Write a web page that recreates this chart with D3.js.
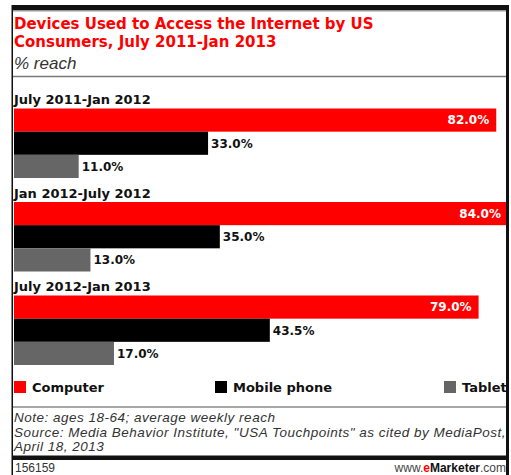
<!DOCTYPE html>
<html>
<head>
<meta charset="utf-8">
<script src="https://cdn.jsdelivr.net/npm/d3@7"></script>
<style>
  html, body { margin: 0; padding: 0; background: #fff; }
  svg { display: block; }
</style>
</head>
<body>
<div id="chart"></div>
<script>
// ---- data ----
const periods = ["July 2011-Jan 2012", "Jan 2012-July 2012", "July 2012-Jan 2013"];
const series = ["Computer", "Mobile phone", "Tablet"];
const computer = [82.0, 84.0, 79.0];
const mobile = [33.0, 35.0, 43.5];
const tablet = [11.0, 13.0, 17.0];
const seriesColors = ["#ff0000", "#000000", "#666666"];
const titleLines = ["Devices Used to Access the Internet by US", "Consumers, July 2011-Jan 2013"];
const subtitle = "% reach";
const notes = [
  "Note: ages 18-64; average weekly reach",
  "Source: Media Behavior Institute, \"USA Touchpoints\" as cited by MediaPost,",
  "April 18, 2013"
];
const chartId = "156159";

const values = [computer, mobile, tablet];

const W = 511, H = 475;
const svg = d3.select("#chart").append("svg").attr("width", W).attr("height", H);
svg.append("rect").attr("width", W).attr("height", H).attr("fill", "#fff");

const boldFont = "'DejaVu Sans', Verdana, sans-serif";
const plainFont = "'Liberation Sans', Arial, sans-serif";

// title
svg.append("g").selectAll("text").data(titleLines).join("text")
  .attr("x", 14).attr("y", (d, i) => 28.5 + i * 18.5)
  .attr("font-family", boldFont).attr("font-weight", "bold").attr("font-size", 15)
  .attr("fill", "#ff0000").text(d => d);

svg.append("text").attr("x", 14).attr("y", 68.5)
  .attr("font-family", plainFont).attr("font-style", "italic").attr("font-size", 17)
  .attr("fill", "#333").text(subtitle);

svg.append("line").attr("x1", 12).attr("x2", 509).attr("y1", 76.5).attr("y2", 76.5)
  .attr("stroke", "#7a7a7a").attr("stroke-width", 1.5);

// scales
const x = d3.scaleLinear().domain([0, 84]).range([14, 508]);
const gy = d3.scaleBand().domain(periods).range([84.5, 365]).paddingInner(0);
const by = d3.scaleBand().domain(series).range([24, gy.bandwidth()]).padding(0);

const groups = svg.append("g").selectAll("g").data(periods).join("g")
  .attr("transform", d => `translate(0,${gy(d)})`);

groups.append("text")
  .attr("x", 14).attr("y", 19.5)
  .attr("font-family", boldFont).attr("font-weight", "bold").attr("font-size", 13)
  .attr("fill", "#111").text(d => d);

groups.each(function(p, pi) {
  const g = d3.select(this);
  const rows = series.map((s, si) => ({ s, si, v: values[si][pi] }));
  g.selectAll("rect.bar").data(rows).join("rect").attr("class", "bar")
    .attr("x", x(0)).attr("y", d => by(d.s))
    .attr("width", d => x(d.v) - x(0)).attr("height", by.bandwidth())
    .attr("fill", d => seriesColors[d.si]);
  g.selectAll("text.val").data(rows).join("text").attr("class", "val")
    .attr("x", d => d.si === 0 ? x(d.v) - 7 : x(d.v) + 3)
    .attr("y", d => by(d.s) + by.bandwidth() / 2)
    .attr("dy", "0.36em")
    .attr("text-anchor", d => d.si === 0 ? "end" : "start")
    .attr("font-family", boldFont).attr("font-weight", "bold").attr("font-size", 12)
    .attr("fill", d => d.si === 0 ? "#fff" : "#111")
    .text(d => d.v.toFixed(1) + "%");
});

// legend
const legendX = [14, 215, 444];
const lg = svg.append("g").selectAll("g").data(series).join("g")
  .attr("transform", (d, i) => `translate(${legendX[i]},381)`);
lg.append("rect").attr("width", 12).attr("height", 12).attr("fill", (d, i) => seriesColors[i]);
lg.append("text").attr("x", 18).attr("y", 11)
  .attr("font-family", boldFont).attr("font-weight", "bold").attr("font-size", 13)
  .attr("fill", "#111").text(d => d);

svg.append("line").attr("x1", 12).attr("x2", 509).attr("y1", 407).attr("y2", 407)
  .attr("stroke", "#8a8a8a").attr("stroke-width", 1.5);

svg.append("g").selectAll("text").data(notes).join("text")
  .attr("x", 14).attr("y", (d, i) => 422 + i * 14.5)
  .attr("font-family", plainFont).attr("font-style", "italic").attr("font-size", 13.5)
  .attr("letter-spacing", 0.5)
  .attr("fill", "#333").text(d => d);

// bottom thick line
svg.append("rect").attr("x", 12).attr("y", 455).attr("width", 497).attr("height", 1).attr("fill", "#888");
svg.append("rect").attr("x", 12).attr("y", 456).attr("width", 497).attr("height", 4).attr("fill", "#111");

svg.append("text").attr("x", 15).attr("y", 472)
  .attr("font-family", plainFont).attr("font-size", 12).attr("fill", "#333").text(chartId);

const brand = svg.append("text").attr("x", 506).attr("y", 472).attr("text-anchor", "end")
  .attr("font-family", plainFont).attr("font-size", 12).attr("fill", "#444");
brand.append("tspan").text("www.");
brand.append("tspan").attr("fill", "#ff0000").attr("font-weight", "bold").text("e");
brand.append("tspan").attr("fill", "#111").attr("font-weight", "bold").text("Marketer");
brand.append("tspan").text(".com");

// frame
svg.append("rect").attr("x", 12).attr("y", 5).attr("width", 497).attr("height", 5).attr("fill", "#111");
svg.append("rect").attr("x", 12).attr("y", 10).attr("width", 497).attr("height", 1.5).attr("fill", "#999");
svg.append("rect").attr("x", 11.5).attr("y", 5).attr("width", 1.5).attr("height", H - 5).attr("fill", "#111");
svg.append("rect").attr("x", 506).attr("y", 5).attr("width", 3).attr("height", H - 5).attr("fill", "#111");
</script>
</body>
</html>
